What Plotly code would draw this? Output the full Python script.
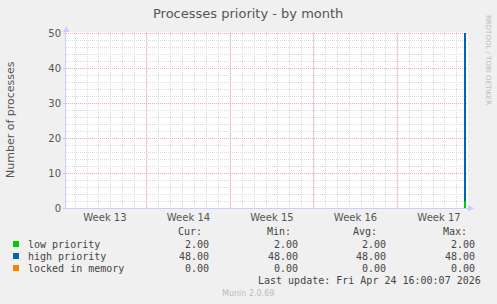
import plotly.graph_objects as go

# ---- data ----
sample_time = ["2026-04-25 17:15"]
low_priority = [2]
high_priority = [48]
locked_in_memory = [0]

series_names = ["low priority", "high priority", "locked in memory"]
series_colors = ["#00CC00", "#0066B3", "#FF8000"]
cur_vals = ["2.00", "48.00", "0.00"]
min_vals = ["2.00", "48.00", "0.00"]
avg_vals = ["2.00", "48.00", "0.00"]
max_vals = ["2.00", "48.00", "0.00"]

week_labels = ["Week 13", "Week 14", "Week 15", "Week 16", "Week 17"]
week_label_pos = ["2026-03-26 12:00", "2026-04-02 12:00", "2026-04-09 12:00",
                  "2026-04-16 12:00", "2026-04-23 12:00"]
week_starts = ["2026-03-30", "2026-04-06", "2026-04-13", "2026-04-20"]
x_range = ["2026-03-23 05:40", "2026-04-25 22:20"]
y_ticks = [0, 10, 20, 30, 40, 50]

W, H = 497, 304
L, R, T, B = 66, 29, 32, 96
PW, PH = W - L - R, H - T - B


def px(x):
    return (x - L) / PW


def py(y):
    return (H - B - y) / PH


fig = go.Figure()
bar_w = 4 * 3600 * 1000
for name, vals, col in zip(series_names, [low_priority, high_priority, locked_in_memory], series_colors):
    fig.add_trace(go.Bar(x=sample_time, y=vals, name=name, marker=dict(color=col, line=dict(width=0)),
                         width=bar_w, showlegend=False))

fig.update_layout(
    width=W, height=H, barmode="stack",
    margin=dict(l=L, r=R, t=T, b=B),
    paper_bgcolor="#F0F0F0", plot_bgcolor="#FFFFFF",
    font=dict(family="DejaVu Sans", size=10, color="#555555"),
    showlegend=False,
)

GRID = "#DCDCDC"
RED = "#F5A8A8"
AX = "#CCCCFF"
fig.update_xaxes(
    type="date", range=x_range,
    tickvals=week_label_pos, ticktext=week_labels, ticks="", showgrid=False,
    tickfont=dict(size=10, color="#555555"),
    showline=True, linecolor=AX, linewidth=1, zeroline=False,
    minor=dict(dtick=86400000, tick0="2026-03-30", showgrid=True, gridcolor=GRID,
               griddash="1px,1px", gridwidth=1, ticks=""),
)
fig.update_yaxes(
    range=[0, 50.4], tickvals=y_ticks, showgrid=True, gridcolor=RED,
    griddash="1px,1px", gridwidth=1, zeroline=False,
    showline=True, linecolor=AX, linewidth=1,
    ticks="outside", ticklen=2, tickcolor=AX,
    tickfont=dict(size=10, color="#555555"),
    minor=dict(dtick=2, showgrid=True, gridcolor=GRID, griddash="1px,1px", gridwidth=1),
)

for ws in week_starts:
    fig.add_shape(type="line", xref="x", yref="paper", x0=ws, x1=ws, y0=0, y1=1,
                  line=dict(color="#FFFFFF", width=1.5), layer="below")
    fig.add_shape(type="line", xref="x", yref="paper", x0=ws, x1=ws, y0=0, y1=1,
                  line=dict(color=RED, width=1, dash="1px,1px"), layer="below")

# axis arrows
fig.add_shape(type="path", xref="paper", yref="paper",
              path=f"M {px(63)} {py(32)} L {px(69.5)} {py(32)} L {px(66.3)} {py(26)} Z",
              fillcolor=AX, line=dict(width=0))
fig.add_shape(type="path", xref="paper", yref="paper",
              path=f"M {px(468)} {py(205)} L {px(468)} {py(211.5)} L {px(474)} {py(208.3)} Z",
              fillcolor=AX, line=dict(width=0))

ann = []


def A(text, x, y, font, xanchor="center", **kw):
    ann.append(dict(text=text, x=px(x), y=py(y), xref="paper", yref="paper",
                    xanchor=xanchor, yanchor="middle", showarrow=False, font=font, **kw))


A("Processes priority - by month", 248, 14, dict(size=13, color="#555555", family="DejaVu Sans"))
A("Number of processes", 10, 120, dict(size=11, color="#555555", family="DejaVu Sans"), textangle=-90)
A("RRDTOOL / TOBI OETIKER", 488, 60, dict(size=7, color="#BBBBBB", family="DejaVu Sans"), textangle=90)

mono = dict(family="DejaVu Sans Mono", size=10, color="#444444")
headers = [("Cur:", 204), ("Min:", 293), ("Avg:", 379), ("Max:", 469)]
for h, xr in headers:
    A(h, xr, 232, mono, xanchor="right")
row_y = [244, 256, 268]
cols = [(cur_vals, 211), (min_vals, 300), (avg_vals, 388), (max_vals, 477)]
for i, (name, col) in enumerate(zip(series_names, series_colors)):
    y = row_y[i]
    fig.add_shape(type="rect", xref="paper", yref="paper", x0=px(13), x1=px(19), y0=py(y + 3), y1=py(y - 3),
                  fillcolor=col, line=dict(width=0))
    A(name, 26, y, mono, xanchor="left")
    for vals, xr in cols:
        A(vals[i], xr, y, mono, xanchor="right")
A("Last update: Fri Apr 24 16:00:07 2026", 483, 280, mono, xanchor="right")
A("Munin 2.0.69", 248, 293, dict(size=8, color="#BBBBBB", family="DejaVu Sans"))

fig.update_layout(annotations=ann)
fig.write_html("out.html")
